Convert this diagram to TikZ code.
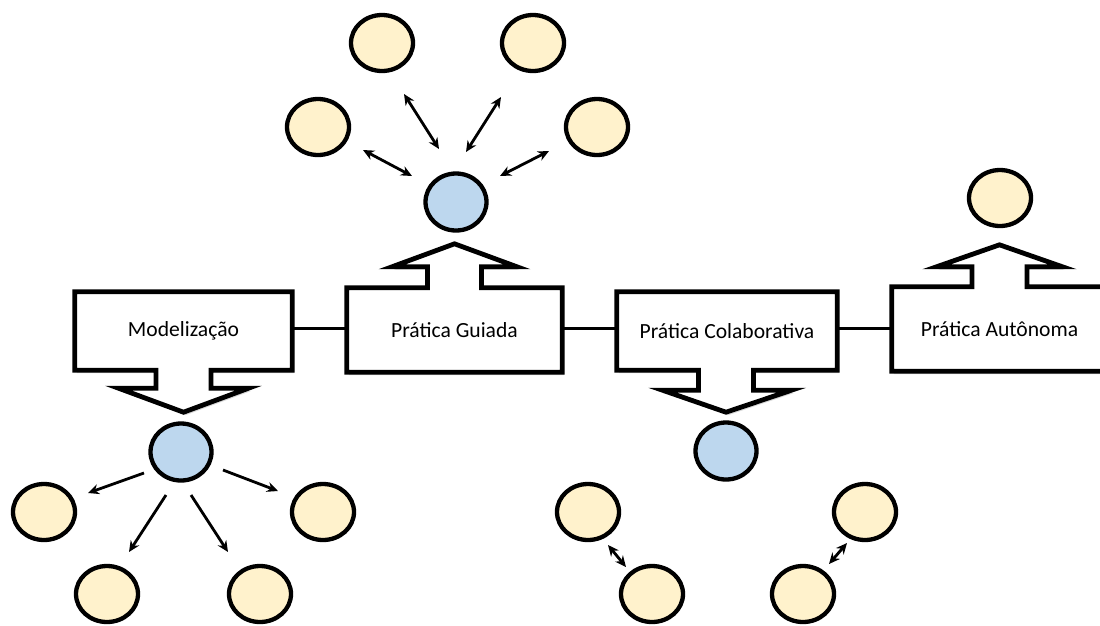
\documentclass[tikz,border=0pt]{standalone}
\usepackage{fontspec}
\setmainfont{Carlito}
\usetikzlibrary{shapes.geometric,arrows.meta,calc,shadows,backgrounds}
\definecolor{yel}{HTML}{FFF2CC}
\definecolor{blu}{HTML}{BDD7EE}
\begin{document}
\begin{tikzpicture}[x=1pt,y=-1pt,
 lbl/.style={inner sep=0pt, font=\fontsize{21.6}{26}\selectfont},
 callout/.style={draw=black, line width=4.8pt, fill=white, line join=miter,
   drop shadow={shadow xshift=2pt, shadow yshift=-3pt, opacity=0.3}},
 ybub/.style={ellipse, draw=black, line width=4.3pt, fill=yel, minimum width=62pt, minimum height=56pt, inner sep=0pt},
 bbub/.style={ellipse, draw=black, line width=4.3pt, fill=blu, minimum width=61pt, minimum height=57pt, inner sep=0pt},
 link/.style={line width=3pt},
 dbl/.style={line width=2.8pt, {Stealth[length=11pt,width=10pt]}-{Stealth[length=11pt,width=10pt]}},
 sgl/.style={line width=2.8pt, -{Stealth[length=11pt,width=10pt]}}]
\useasboundingbox (0,0) rectangle (1100,625);
\clip (0,0) rectangle (1100,625);

% boxes (text nodes)
\node[lbl, minimum width=217pt, minimum height=78pt] (m) at (183.5,331) {Modelização};
\node[lbl, minimum width=215pt, minimum height=84pt] (g) at (454.5,330) {Prática Guiada};
\node[lbl, minimum width=220pt, minimum height=78pt] (c) at (727,331) {Prática Colaborativa};
\node[lbl, minimum width=215pt, minimum height=84pt] (a) at (999.5,329) {Prática Autônoma};

\begin{scope}[on background layer]
\fill[white] (0,0) rectangle (1100,625);
% Modelização: down callout
\draw[callout] (m.north west) -- (m.north east) -- (m.south east)
  -- ($(m.south)+(27.5,0)$) -- ($(m.south)+(27.5,18)$) -- ($(m.south)+(65,18)$)
  -- ($(m.south)+(0,42)$) -- ($(m.south)+(-65,18)$) -- ($(m.south)+(-27.5,18)$)
  -- ($(m.south)+(-27.5,0)$) -- (m.south west) -- cycle;
% Guiada: up callout
\draw[callout] (g.south west) -- (g.south east) -- (g.north east)
  -- ($(g.north)+(27,0)$) -- ($(g.north)+(27,-21)$) -- ($(g.north)+(62.5,-21)$)
  -- ($(g.north)+(0,-44)$) -- ($(g.north)+(-62.5,-21)$) -- ($(g.north)+(-27,-21)$)
  -- ($(g.north)+(-27,0)$) -- (g.north west) -- cycle;
% Colaborativa: down callout
\draw[callout] (c.north west) -- (c.north east) -- (c.south east)
  -- ($(c.south)+(26.5,0)$) -- ($(c.south)+(26.5,20)$) -- ($(c.south)+(64.5,20)$)
  -- ($(c.south)+(-1,42)$) -- ($(c.south)+(-64.5,20)$) -- ($(c.south)+(-28.5,20)$)
  -- ($(c.south)+(-28.5,0)$) -- (c.south west) -- cycle;
% Autônoma: up callout
\draw[callout] (a.south west) -- (a.south east) -- (a.north east)
  -- ($(a.north)+(27.5,0)$) -- ($(a.north)+(27.5,-20)$) -- ($(a.north)+(63,-20)$)
  -- ($(a.north)+(0,-42)$) -- ($(a.north)+(-63,-20)$) -- ($(a.north)+(-27.5,-20)$)
  -- ($(a.north)+(-27.5,0)$) -- (a.north west) -- cycle;
\end{scope}

% links between boxes
\draw[link] (m.east |- 0,328) -- (g.west |- 0,328);
\draw[link] (g.east |- 0,328) -- (c.west |- 0,328);
\draw[link] (c.east |- 0,328) -- (a.west |- 0,328);

% top group (Prática Guiada)
\node[ybub] (t1) at (382,43) {};
\node[ybub] (t2) at (533,43) {};
\node[ybub] (t3) at (318,127) {};
\node[ybub] (t4) at (597,127) {};
\node[bbub] (tb) at (456,202) {};
\draw[dbl] ($(t3)+(45,23)$) -- ($(tb)+(-44,-26)$);
\draw[dbl] ($(t1)+(22,51)$) -- ($(tb)+(-17,-53)$);
\draw[dbl] ($(t2)+(-32,54)$) -- ($(tb)+(10,-50)$);
\draw[dbl] ($(t4)+(-48,24)$) -- ($(tb)+(44,-26)$);

% Prática Autônoma
\node[ybub] (ay) at (1000,198) {};

% Modelização group
\node[bbub] (mb) at (181,452) {};
\node[ybub] (m1) at (44,512) {};
\node[ybub] (m2) at (323,512) {};
\node[ybub] (m3) at (107,594) {};
\node[ybub] (m4) at (260,594) {};
\draw[sgl] ($(mb)+(-37,21)$) -- ($(m1)+(44,-19)$);
\draw[sgl] ($(mb)+(42,18)$) -- ($(m2)+(-45,-21)$);
\draw[sgl] ($(mb)+(-15,43)$) -- ($(m3)+(22,-42)$);
\draw[sgl] ($(mb)+(10,43)$) -- ($(m4)+(-32,-42)$);

% Colaborativa group
\node[bbub] (cb) at (726,451) {};
\node[ybub] (c1) at (588,512) {};
\node[ybub] (c2) at (652,594) {};
\node[ybub] (c3) at (865,512) {};
\node[ybub] (c4) at (803,594) {};
\draw[dbl] ($(c1)+(20,33)$) -- ($(c2)+(-26,-27)$);
\draw[dbl] ($(c3)+(-18,31)$) -- ($(c4)+(26,-30)$);
\end{tikzpicture}
\end{document}
